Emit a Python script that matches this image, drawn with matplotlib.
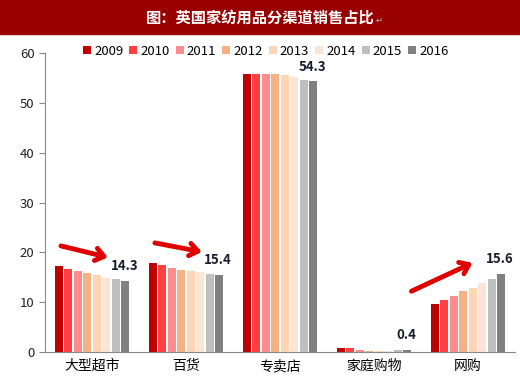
import numpy as np
import matplotlib.pyplot as plt
from matplotlib.patches import Rectangle

plt.rcParams['font.family'] = ['Noto Sans CJK SC', 'DejaVu Sans']

channels = ['大型超市', '百货', '专卖店', '家庭购物', '网购']
years = ['2009', '2010', '2011', '2012', '2013', '2014', '2015', '2016']
share = {
    '2009': [17.3, 17.9, 55.8, 0.8, 9.6],
    '2010': [16.6, 17.4, 55.8, 0.8, 10.4],
    '2011': [16.3, 16.9, 55.9, 0.4, 11.2],
    '2012': [15.9, 16.5, 55.9, 0.3, 12.2],
    '2013': [15.5, 16.3, 55.6, 0.3, 12.8],
    '2014': [14.8, 16.0, 55.2, 0.3, 13.8],
    '2015': [14.6, 15.6, 54.6, 0.4, 14.6],
    '2016': [14.3, 15.4, 54.3, 0.4, 15.6],
}
colors = ['#C00000', '#FF4040', '#FF8C8C', '#F4B183',
          '#FCD5B5', '#FBE5D6', '#BFBFBF', '#808080']
arrow_groups = [0, 1, 4]

fig = plt.figure(figsize=(5.2, 3.82), dpi=100)

# title banner
fig.patches.append(Rectangle((0, 0.91), 1, 0.09, transform=fig.transFigure,
                             color='#990000', zorder=0))
fig.text(0.5, 0.955, '图：英国家纺用品分渠道销售占比', color='white',
         fontsize=11, fontweight='bold', ha='center', va='center')
fig.text(0.722, 0.948, '↵', color='#bbbbbb', fontsize=6, ha='left',
         va='center', family=['DejaVu Sans'])

ax = fig.add_axes([0.0865, 0.0785, 0.9035, 0.7825])
x = np.arange(len(channels))
step = 0.101
w = 0.086
for i, yr in enumerate(years):
    ax.bar(x + (i - 3.5) * step, share[yr], w, color=colors[i], label=yr,
           zorder=2)

last = share[years[-1]]
for j in range(len(channels)):
    ax.text(x[j] + 3.5 * step - 0.01, last[j] + 1.6, f'{last[j]:.1f}',
            ha='center', va='bottom', fontsize=9.5, fontweight='bold',
            color='#1a1a2e')

for j in arrow_groups:
    first = share[years[0]][j]
    if last[j] < first:
        start = (x[j] - 0.33, first + 4.0)
        end = (x[j] + 0.17, last[j] + 4.7)
    else:
        start = (x[j] - 0.6, first + 2.6)
        end = (x[j] + 0.05, last[j] + 2.3)
    ax.annotate('', xy=end, xytext=start,
                arrowprops=dict(arrowstyle='->,head_width=0.45,head_length=0.6',
                                color='#E00000', lw=3.5,
                                shrinkA=0, shrinkB=0))

ax.set_xlim(-0.5, len(channels) - 0.5)
ax.set_ylim(0, 60)
ax.set_yticks(np.arange(0, 61, 10))
ax.set_xticks(x)
ax.set_xticklabels(channels, fontsize=10)
ax.tick_params(axis='y', labelsize=9.5, colors='#222222', direction='out',
               length=4, color='#888888')
ax.tick_params(axis='x', length=0, pad=5)
for s in ['top', 'right']:
    ax.spines[s].set_visible(False)
ax.spines['left'].set_color('#888888')
ax.spines['bottom'].set_color('#888888')

ax.legend(loc='upper center', bbox_to_anchor=(0.47, 1.045), ncol=8,
          frameon=False, fontsize=9.5, handlelength=0.6, handleheight=0.6,
          handletextpad=0.25, columnspacing=0.45, borderaxespad=0)

fig.savefig('out.png', dpi=100)
